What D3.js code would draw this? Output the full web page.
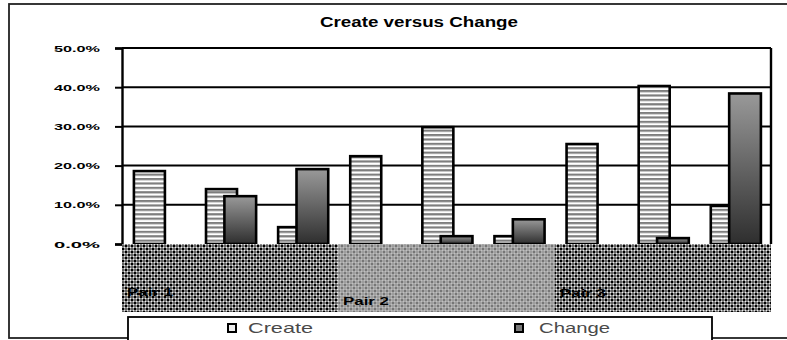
<!DOCTYPE html>
<html>
<head>
<meta charset="utf-8">
<script src="https://cdn.jsdelivr.net/npm/d3@7"></script>
<style>
  html, body { margin: 0; padding: 0; background: #fff; }
  svg { display: block; }
  text { font-family: "Liberation Sans", Arial, sans-serif; }
</style>
</head>
<body>
<svg id="chart" width="787" height="340"></svg>
<script>
// Category slots, three per pair
const categories = ["P1-1", "P1-2", "P1-3", "P2-1", "P2-2", "P2-3", "P3-1", "P3-2", "P3-3"];
const pairs = ["Pair 1", "Pair 2", "Pair 3"];
const createValues = [18.6, 14.0, 4.3, 22.4, 29.8, 2.0, 25.5, 40.3, 9.7];
const changeValues = [0, 12.2, 19.1, 0, 2.0, 6.3, 0, 1.5, 38.4];
const yTicks = [0, 10, 20, 30, 40, 50];
const seriesNames = ["Create", "Change"];

const svg = d3.select("#chart");
const defs = svg.append("defs");

// horizontal stripes for the Create bars
const stripe = defs.append("pattern").attr("id", "stripes")
  .attr("patternUnits", "userSpaceOnUse").attr("width", 8).attr("height", 4.4)
  .attr("y", 244);
stripe.append("rect").attr("width", 8).attr("height", 4.4).attr("fill", "#fff");
stripe.append("rect").attr("y", 0).attr("width", 8).attr("height", 2.2).attr("fill", "#7e7e7e");

// grey shading for the Change bars
const grad = defs.append("linearGradient").attr("id", "changeGrad")
  .attr("x1", 0).attr("y1", 0).attr("x2", 0).attr("y2", 1);
grad.append("stop").attr("offset", "0%").attr("stop-color", "#999");
grad.append("stop").attr("offset", "100%").attr("stop-color", "#2e2e2e");

// lattice fills for the pair bands
function lattice(id, bg, line, dot) {
  const p = defs.append("pattern").attr("id", id)
    .attr("patternUnits", "userSpaceOnUse").attr("width", 6).attr("height", 6);
  p.append("rect").attr("width", 6).attr("height", 6).attr("fill", bg);
  p.append("path").attr("d", "M0,0L6,6M6,0L0,6").attr("stroke", line).attr("stroke-width", 1.2);
  p.append("rect").attr("x", 2).attr("y", 2).attr("width", 2).attr("height", 2).attr("fill", dot);
  [[-1, -1], [5, -1], [-1, 5], [5, 5]].forEach(([a, b]) =>
    p.append("rect").attr("x", a).attr("y", b).attr("width", 2).attr("height", 2).attr("fill", dot));
}
lattice("latDark", "#5e5e5e", "#f2f2f2", "#000");
lattice("latLight", "#9c9c9c", "#c2c2c2", "#767676");

// outer frame
svg.append("rect").attr("x", 9).attr("y", 4).attr("width", 800).attr("height", 334)
  .attr("fill", "#fff").attr("stroke", "#222").attr("stroke-width", 1.8);

// scales
const x0 = d3.scaleBand().domain(categories).range([122, 771]).padding(0);
const y = d3.scaleLinear().domain([0, 50]).range([244, 48]);
const bw = x0.bandwidth();

// title
svg.append("text").attr("x", 320).attr("y", 27)
  .attr("font-size", 14).attr("font-weight", "bold").attr("fill", "#000")
  .attr("textLength", 198).attr("lengthAdjust", "spacingAndGlyphs")
  .text("Create versus Change");

// gridlines
svg.append("g").selectAll("line").data(yTicks.filter(d => d > 0)).join("line")
  .attr("x1", 122).attr("x2", 771)
  .attr("y1", d => y(d)).attr("y2", d => y(d))
  .attr("stroke", "#000").attr("stroke-width", 2);

// right border of plot area
svg.append("line").attr("x1", 771).attr("x2", 771).attr("y1", y(50)).attr("y2", y(0))
  .attr("stroke", "#000").attr("stroke-width", 2.4);

// y axis
const yAxis = d3.axisLeft(y).tickValues(yTicks).tickSize(7).tickFormat(() => "");
const yg = svg.append("g").attr("transform", "translate(122,0)").call(yAxis);
yg.select(".domain").attr("stroke", "#000").attr("stroke-width", 2.4);
yg.selectAll(".tick line").attr("stroke", "#000").attr("stroke-width", 2);
svg.append("g").selectAll("text").data(yTicks).join("text")
  .attr("x", 100).attr("y", d => y(d) + 3.5)
  .attr("text-anchor", "end").attr("font-size", 9).attr("font-weight", "bold").attr("fill", "#000")
  .attr("textLength", 46).attr("lengthAdjust", "spacingAndGlyphs")
  .text(d => d3.format(".1f")(d) + "%");

// bars
const barsG = svg.append("g");
barsG.selectAll("rect.create").data(categories.filter((d, i) => createValues[i] > 0)).join("rect")
  .attr("class", "create")
  .attr("x", d => x0(d) + bw * 0.165)
  .attr("width", bw * 0.43)
  .attr("y", d => y(createValues[categories.indexOf(d)]))
  .attr("height", d => y(0) - y(createValues[categories.indexOf(d)]))
  .attr("fill", "url(#stripes)").attr("stroke", "#000").attr("stroke-width", 2.6);
barsG.selectAll("rect.change").data(categories.filter((d, i) => changeValues[i] > 0)).join("rect")
  .attr("class", "change")
  .attr("x", d => x0(d) + bw * 0.42)
  .attr("width", bw * 0.44)
  .attr("y", d => y(changeValues[categories.indexOf(d)]))
  .attr("height", d => y(0) - y(changeValues[categories.indexOf(d)]))
  .attr("fill", "url(#changeGrad)").attr("stroke", "#000").attr("stroke-width", 2.6);

// pair bands below the axis
const pairG = svg.append("g");
pairs.forEach((p, k) => {
  const xs = x0(categories[k * 3]);
  const xe = x0(categories[k * 3 + 2]) + bw;
  pairG.append("rect").attr("x", xs).attr("y", 244).attr("width", xe - xs).attr("height", 68)
    .attr("fill", k === 1 ? "url(#latLight)" : "url(#latDark)");
});
const pairLabelPos = [[127, 296], [343, 305], [560, 297]];
pairG.selectAll("text").data(pairs).join("text")
  .attr("x", (d, i) => pairLabelPos[i][0]).attr("y", (d, i) => pairLabelPos[i][1])
  .attr("font-size", 11).attr("font-weight", "bold").attr("fill", "#000")
  .attr("textLength", 46).attr("lengthAdjust", "spacingAndGlyphs")
  .text(d => d);

// legend
const lg = svg.append("g");
lg.append("rect").attr("x", 128).attr("y", 317).attr("width", 584).attr("height", 30)
  .attr("fill", "#fff").attr("stroke", "#000").attr("stroke-width", 1.8);
const legendPos = [[228, 248, 65], [515, 539, 71]];
seriesNames.forEach((s, i) => {
  lg.append("rect").attr("x", legendPos[i][0]).attr("y", 324).attr("width", 8).attr("height", 8)
    .attr("fill", i === 0 ? "#eee" : "#7a7a7a").attr("stroke", "#000").attr("stroke-width", 2);
  lg.append("text").attr("x", legendPos[i][1]).attr("y", 333)
    .attr("font-size", 15).attr("fill", "#4a4a4a")
    .attr("textLength", legendPos[i][2]).attr("lengthAdjust", "spacingAndGlyphs")
    .text(s);
});
</script>
</body>
</html>
